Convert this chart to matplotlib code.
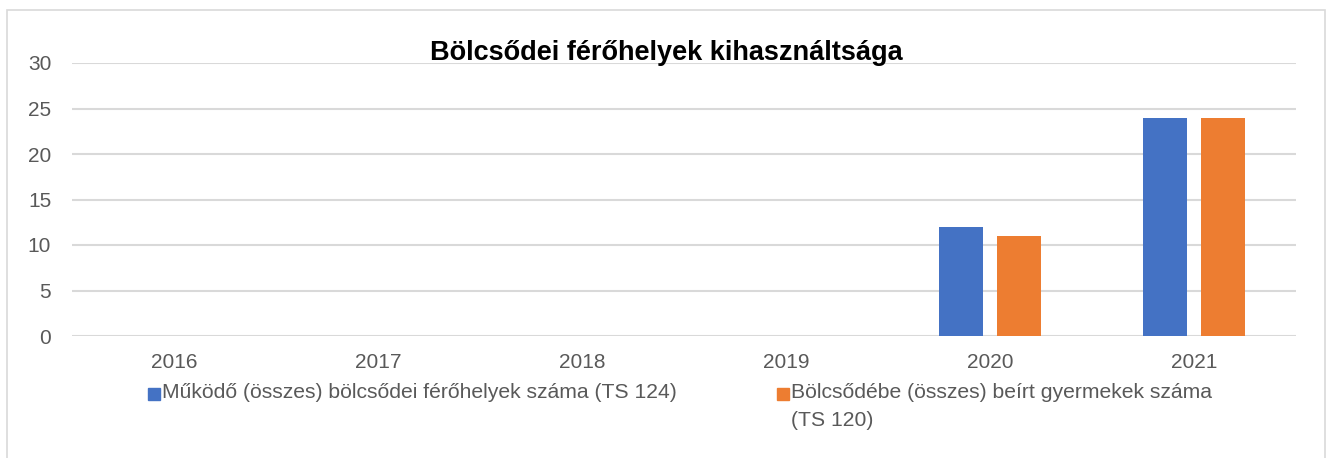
import matplotlib.pyplot as plt
from matplotlib.patches import Rectangle
import numpy as np

years = ["2016", "2017", "2018", "2019", "2020", "2021"]
ferohely = [0, 0, 0, 0, 12, 24]
beirt = [0, 0, 0, 0, 11, 24]
labels = ["Működő (összes) bölcsődei férőhelyek száma (TS 124)",
          "Bölcsődébe (összes) beírt gyermekek száma\n(TS 120)"]
colors = ["#4472C4", "#ED7D31"]
title = "Bölcsődei férőhelyek kihasználtsága"

plt.rcParams["font.family"] = ["Liberation Sans", "DejaVu Sans"]
W, H = 1328, 458
fig = plt.figure(figsize=(W / 100, H / 100), dpi=100)
ax = fig.add_axes([72 / W, 1 - 336 / H, (1296 - 72) / W, (336 - 63) / H])

x = np.arange(len(years))
w = 0.22
off = 0.142
ax.bar(x - off, ferohely, w, color=colors[0], zorder=3)
ax.bar(x + off, beirt, w, color=colors[1], zorder=3)

ax.set_xlim(-0.5, len(years) - 0.5)
ax.set_ylim(0, 30)
ax.set_yticks(range(0, 31, 5))
ax.set_xticks(x)
ax.set_xticklabels(years)
ax.grid(axis="y", color="#D9D9D9", linewidth=1.5, zorder=0)
for s in ax.spines.values():
    s.set_visible(False)
ax.tick_params(length=0, labelsize=15, labelcolor="#595959")
ax.tick_params(axis="y", pad=15)
ax.tick_params(axis="x", pad=12)

fig.text(666 / W, 1 - 53 / H, title, ha="center", va="center",
         fontsize=19.5, fontweight="bold", color="black")

# legend below the plot
lx = [148, 777]
for px, lab, c in zip(lx, labels, colors):
    fig.patches.append(Rectangle((px / W, 1 - 400 / H), 12 / W, 12 / H,
                                 transform=fig.transFigure, color=c))
    fig.text((px + 14) / W, 1 - 383 / H, lab, ha="left", va="top",
             fontsize=15.2, color="#595959", linespacing=1.6,
             transform=fig.transFigure)

# chart border
fig.patches.append(Rectangle((7 / W, -0.05), (1325 - 7) / W, 1.05 - 10 / H,
                             transform=fig.transFigure, fill=False,
                             edgecolor="#D9D9D9", linewidth=1.2))

fig.savefig("out.png", dpi=100)
